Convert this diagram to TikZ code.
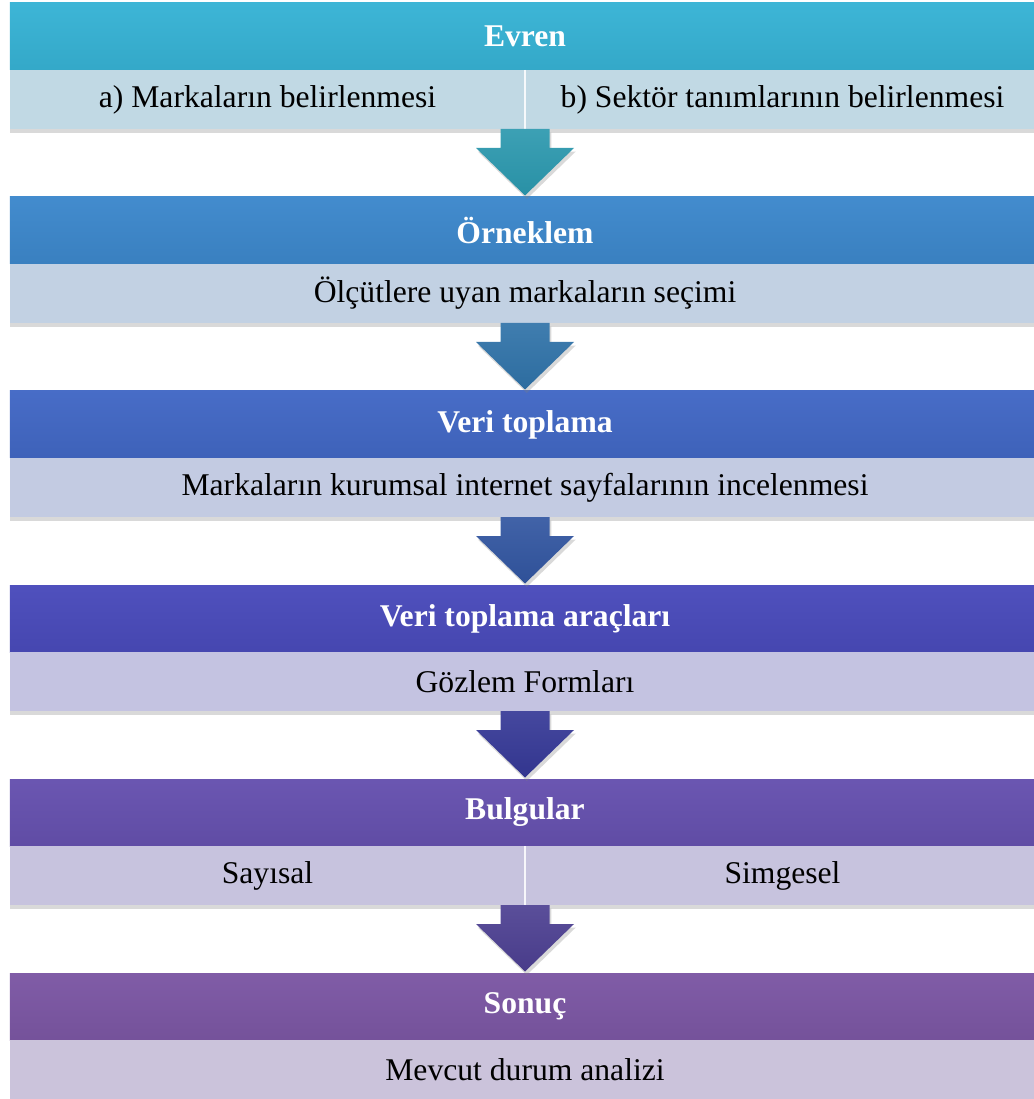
\documentclass[tikz,border=0pt]{standalone}
\usepackage{fontspec}
\setmainfont{Liberation Serif}
\usetikzlibrary{positioning}
\usetikzlibrary{calc}
\usetikzlibrary{shadows}

\definecolor{basA}{HTML}{37B3D5}
\definecolor{basB}{HTML}{3D88CC}
\definecolor{basC}{HTML}{4268C5}
\definecolor{basD}{HTML}{4A4BBB}
\definecolor{basE}{HTML}{6651AF}
\definecolor{basF}{HTML}{7C57A4}
\definecolor{altA}{HTML}{C1D9E4}
\definecolor{altB}{HTML}{C2D1E3}
\definecolor{altC}{HTML}{C3CBE2}
\definecolor{altD}{HTML}{C4C3E1}
\definecolor{altE}{HTML}{C7C3DE}
\definecolor{altF}{HTML}{CBC3DB}
\definecolor{okA}{HTML}{2B98AE}
\definecolor{okB}{HTML}{2F72A8}
\definecolor{okC}{HTML}{3155A0}
\definecolor{okD}{HTML}{353896}
\definecolor{okE}{HTML}{4C3F91}

\tikzset{
  baslik/.style={minimum width=20.6cm, minimum height=1.34cm, inner sep=0pt, outer sep=0pt,
    text=white, font=\fontsize{18}{22}\selectfont\bfseries,
    top color=#1!97!white, bottom color=#1!94!black},
  altsatir/.style={fill=#1, minimum width=20.6cm, minimum height=1.18cm, inner sep=0pt, outer sep=0pt,
    font=\fontsize{18}{22}\selectfont,
    drop shadow={shadow xshift=0pt, shadow yshift=-2pt, opacity=0.3}},
  yarim/.style={altsatir=#1, minimum width=10.3cm},
  okstil/.style={top color=#1!92!white, bottom color=#1!95!black,
    drop shadow={shadow xshift=1pt, shadow yshift=-2pt, opacity=0.3}}
}

% asagi ok: #1 ust nokta, #2 alttaki baslik, #3 renk
\newcommand{\asagiok}[3]{
  \path[okstil=#3] ($(#1)+(-0.49,0)$) -- ($(#1)+(0.49,0)$) -- ($(#1)+(0.49,-0.38)$)
    -- ($(#1)+(0.98,-0.38)$) -- ($(#2.north)+(0,0.03)$) -- ($(#1)+(-0.98,-0.38)$)
    -- ($(#1)+(-0.49,-0.38)$) -- cycle;
}

\begin{document}
\begin{tikzpicture}
  \useasboundingbox (0,0) rectangle (20.66,-21.98);

  % Evren
  \node[baslik=basA, anchor=north] (evren) at (10.5,-0.06) {Evren};
  \node[yarim=altA, below right=0pt and 0pt of evren.south west] (markaA) {a) Markaların belirlenmesi};
  \node[yarim=altA, below left=0pt and 0pt of evren.south east] (sektorB) {b) Sektör tanımlarının belirlenmesi};
  \draw[white!85!altA, line width=0.8pt] (markaA.north east) -- (markaA.south east);

  % Orneklem
  \node[baslik=basB, below=2.54cm of evren] (orneklem) {Örneklem};
  \node[altsatir=altB, below=0pt of orneklem] (secim) {Ölçütlere uyan markaların seçimi};

  % Veri toplama
  \node[baslik=basC, below=1.36cm of secim] (veri) {Veri toplama};
  \node[altsatir=altC, below=0pt of veri] (inceleme) {Markaların kurumsal internet sayfalarının incelenmesi};

  % Veri toplama araclari
  \node[baslik=basD, below=1.36cm of inceleme] (arac) {Veri toplama araçları};
  \node[altsatir=altD, below=0pt of arac] (form) {Gözlem Formları};

  % Bulgular
  \node[baslik=basE, below=1.36cm of form] (bulgu) {Bulgular};
  \node[yarim=altE, below right=0pt and 0pt of bulgu.south west] (sayisal) {Sayısal};
  \node[yarim=altE, below left=0pt and 0pt of bulgu.south east] (simgesel) {Simgesel};
  \draw[white!85!altE, line width=0.8pt] (sayisal.north east) -- (sayisal.south east);

  % Sonuc
  \node[baslik=basF, below=2.54cm of bulgu] (sonuc) {Sonuç};
  \node[altsatir=altF, below=0pt of sonuc] (analiz) {Mevcut durum analizi};

  \asagiok{markaA.south east}{orneklem}{okA}
  \asagiok{secim.south}{veri}{okB}
  \asagiok{inceleme.south}{arac}{okC}
  \asagiok{form.south}{bulgu}{okD}
  \asagiok{sayisal.south east}{sonuc}{okE}
\end{tikzpicture}
\end{document}
